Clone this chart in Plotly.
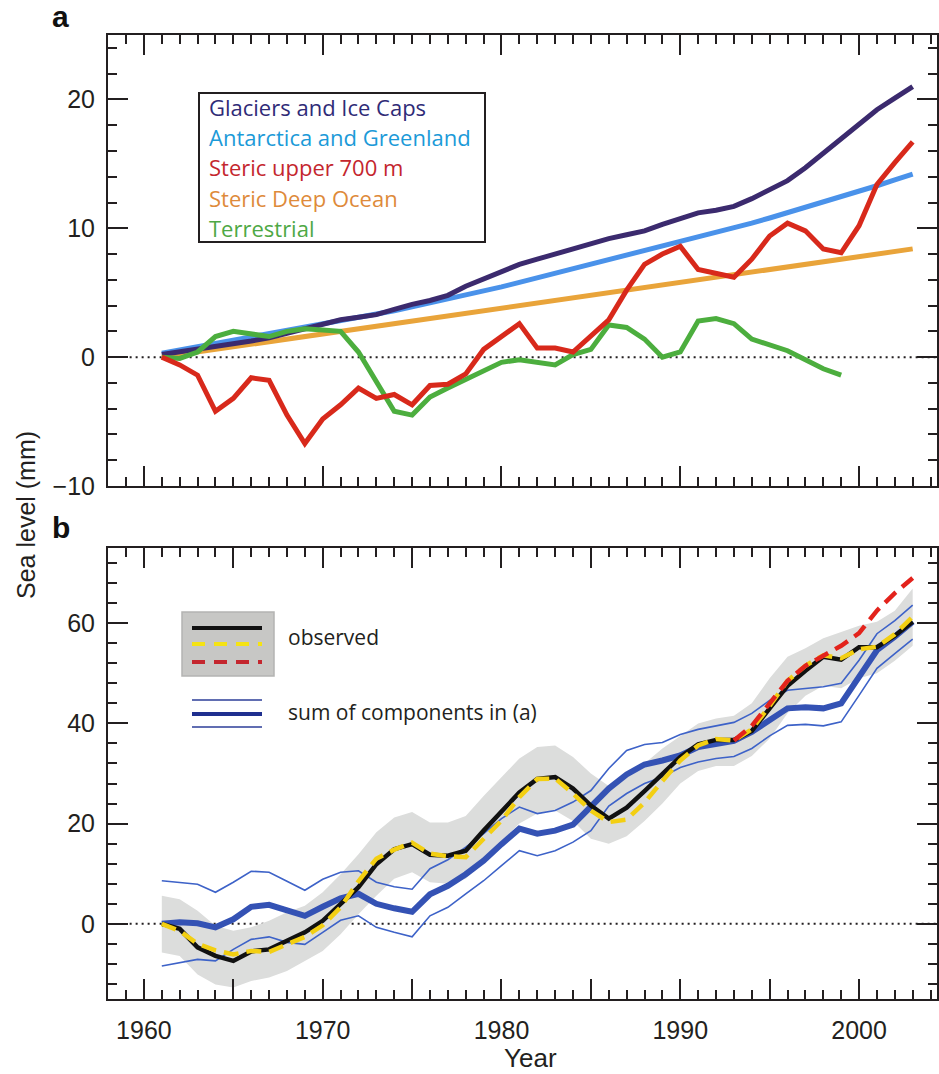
import plotly.graph_objects as go

# ---------------- data ----------------
years = list(range(1961, 2004))
years_terr = list(range(1961, 2000))

glaciers = [0.2, 0.4, 0.6, 0.8, 1.0, 1.25, 1.5, 1.85, 2.2, 2.6, 2.9, 3.1, 3.3, 3.7, 4.1, 4.4, 4.8, 5.5,
            6.1, 6.7, 7.2, 7.6, 8.0, 8.5, 8.8, 9.2, 9.5, 9.8, 10.3, 10.8, 11.2, 11.4, 11.7, 12.3, 13.0,
            13.7, 14.7, 15.8, 17.0, 18.1, 19.2, 20.1, 21.0]
antarctica = [0.3, 0.55, 0.8, 1.05, 1.3, 1.55, 1.8, 2.05, 2.3, 2.55, 2.8, 3.05, 3.3, 3.6, 3.9, 4.2, 4.5,
              4.8, 5.1, 5.45, 5.8, 6.15, 6.5, 6.85, 7.2, 7.55, 7.9, 8.25, 8.6, 8.95, 9.3, 9.65, 10.0,
              10.4, 10.8, 11.2, 11.6, 12.0, 12.4, 12.85, 13.3, 13.75, 14.2]
steric_upper = [0.0, -0.6, -1.4, -4.2, -3.2, -1.6, -1.8, -4.5, -6.7, -4.8, -3.7, -2.4, -3.2, -2.9, -3.7,
                -2.2, -2.1, -1.3, 0.6, 1.6, 2.6, 0.7, 0.7, 0.4, 1.6, 2.9, 5.2, 7.2, 8.0, 8.6, 6.8, 6.5,
                6.2, 7.6, 9.4, 10.4, 9.8, 8.4, 8.1, 10.2, 13.4, 15.1, 16.7]
steric_deep = [0.0, 0.2, 0.4, 0.6, 0.8, 1.0, 1.2, 1.4, 1.6, 1.8, 2.0, 2.2, 2.4, 2.6, 2.8, 3.0, 3.2, 3.4,
               3.6, 3.8, 4.0, 4.2, 4.4, 4.6, 4.8, 5.0, 5.2, 5.4, 5.6, 5.8, 6.0, 6.2, 6.4, 6.6, 6.8, 7.0,
               7.2, 7.4, 7.6, 7.8, 8.0, 8.2, 8.4]
terrestrial = [0.0, -0.1, 0.4, 1.6, 2.0, 1.8, 1.6, 2.0, 2.2, 2.1, 2.0, 0.4, -1.9, -4.2, -4.5, -3.1, -2.4,
               -1.7, -1.0, -0.4, -0.2, -0.4, -0.6, 0.2, 0.6, 2.5, 2.3, 1.4, 0.0, 0.4, 2.8, 3.0, 2.6,
               1.4, 0.9, 0.5, -0.2, -0.9, -1.4]

observed_black = [0.0, -1.0, -4.7, -6.4, -7.4, -5.5, -5.1, -3.4, -1.7, 0.6, 3.9, 7.3, 11.9, 14.9, 15.9,
                  13.8, 13.6, 14.6, 18.6, 22.5, 26.2, 28.9, 29.3, 27.0, 23.6, 21.0, 23.2, 26.5, 30.0,
                  33.3, 35.8, 36.7, 36.7, 38.5, 43.0, 47.5, 50.5, 53.3, 52.7, 55.2, 55.2, 57.5, 60.3]
observed_yellow = [0.0, -1.4, -4.0, -5.3, -6.1, -5.4, -5.6, -4.0, -2.6, -0.3, 3.3, 8.5, 13.0, 14.8, 16.2,
                   14.0, 13.5, 13.3, 17.0, 20.6, 25.3, 28.9, 29.0, 26.0, 22.6, 20.3, 20.8, 24.2, 28.5,
                   32.6, 35.6, 36.9, 36.6, 38.8, 43.5, 48.5, 51.5, 53.6, 53.0, 54.8, 55.3, 57.8, 61.3]
years_alt = list(range(1993, 2004))
observed_red = [36.6, 39.5, 44.0, 48.5, 51.5, 53.5, 55.5, 58.0, 62.5, 66.0, 69.0]
observed_upper = [5.6, 4.9, 2.6, -0.4, -1.4, -0.7, 0.6, 2.3, 3.6, 6.3, 9.9, 13.9, 18.3, 21.2, 22.3, 20.2,
                  20.2, 21.5, 25.5, 29.3, 33.0, 35.3, 35.6, 33.3, 30.0, 27.5, 29.5, 32.0, 35.0, 37.5,
                  40.0, 41.0, 41.5, 44.0, 49.0, 53.3, 55.0, 57.0, 58.3, 59.5, 60.3, 62.5, 66.9]
observed_lower = [-5.7, -6.4, -10.1, -12.1, -12.7, -11.4, -10.7, -9.4, -7.4, -5.4, -2.1, 1.9, 5.6, 9.0,
                  10.3, 8.3, 8.0, 9.0, 12.5, 16.5, 20.0, 22.0, 22.6, 20.5, 17.0, 16.0, 17.5, 20.5, 24.0,
                  28.0, 30.5, 31.5, 31.5, 33.5, 37.0, 42.0, 45.5, 47.5, 47.0, 49.0, 50.0, 52.5, 55.5]
sum_mid = [0.0, 0.3, 0.1, -0.7, 0.9, 3.4, 3.8, 2.6, 1.6, 3.4, 5.1, 6.0, 4.0, 3.1, 2.4, 5.9, 7.6, 9.9,
           12.6, 15.9, 19.0, 18.0, 18.6, 19.8, 23.5, 27.0, 29.8, 31.8, 32.6, 33.6, 35.3, 36.0, 36.5,
           38.3, 40.6, 43.0, 43.2, 43.0, 44.0, 49.3, 54.6, 57.3, 60.3]
sum_upper = [8.6, 8.3, 7.9, 6.3, 8.3, 10.5, 10.3, 8.5, 6.7, 8.9, 10.3, 10.6, 8.3, 7.4, 6.9, 11.0, 12.8,
             15.3, 18.0, 21.0, 23.3, 22.0, 22.6, 24.3, 26.6, 31.0, 34.6, 35.8, 36.2, 37.8, 38.8, 39.5,
             40.2, 42.0, 44.6, 46.6, 47.0, 47.3, 48.0, 52.6, 57.9, 60.5, 63.6]
sum_lower = [-8.4, -7.7, -7.1, -7.4, -5.1, -3.1, -2.6, -3.7, -4.1, -1.7, 0.7, 1.6, -0.7, -1.7, -2.6, 1.6,
             3.3, 6.0, 8.6, 11.6, 14.6, 13.6, 14.6, 16.3, 18.6, 23.5, 26.0, 28.0, 29.3, 31.2, 32.3,
             33.0, 33.4, 35.0, 37.5, 39.6, 39.8, 39.5, 40.3, 45.6, 51.0, 53.9, 56.8]

x_tick_vals = [1960, 1965, 1970, 1975, 1980, 1985, 1990, 1995, 2000]
x_tick_text = ["1960", "", "1970", "", "1980", "", "1990", "", "2000"]
ya_tick_vals = [-10, 0, 10, 20]
ya_tick_text = ["\u221210", "0", "10", "20"]
yb_tick_vals = [0, 20, 40, 60]
yb_tick_text = ["0", "20", "40", "60"]

legend_a = [("Glaciers and Ice Caps", "#2f2b77"),
            ("Antarctica and Greenland", "#1b9ad8"),
            ("Steric upper 700 m", "#c4262e"),
            ("Steric Deep Ocean", "#de8a3a"),
            ("Terrestrial", "#4ea845")]

# ---------------- layout helpers (pixel -> paper) ----------------
W, H = 939, 1074
def px(x):
    return x / W
def py(y):
    return 1 - y / H

C_GLAC = "#3b2a6e"
C_ANT = "#4a92ea"
C_RED = "#d8291b"
C_ORG = "#e9a43a"
C_GRN = "#4cae3e"
C_BLUE_THICK = "#3452b4"
C_BLUE_THIN = "#3d62c8"

fig = go.Figure()

# ---- panel a ----
lw = 5
fig.add_trace(go.Scatter(x=years, y=steric_deep, mode="lines", line=dict(color=C_ORG, width=lw),
                         xaxis="x", yaxis="y", showlegend=False))
fig.add_trace(go.Scatter(x=years, y=antarctica, mode="lines", line=dict(color=C_ANT, width=lw),
                         xaxis="x", yaxis="y", showlegend=False))
fig.add_trace(go.Scatter(x=years, y=glaciers, mode="lines", line=dict(color=C_GLAC, width=lw),
                         xaxis="x", yaxis="y", showlegend=False))
fig.add_trace(go.Scatter(x=years_terr, y=terrestrial, mode="lines", line=dict(color=C_GRN, width=lw),
                         xaxis="x", yaxis="y", showlegend=False))
fig.add_trace(go.Scatter(x=years, y=steric_upper, mode="lines", line=dict(color=C_RED, width=lw),
                         xaxis="x", yaxis="y", showlegend=False))

# ---- panel b ----
fig.add_trace(go.Scatter(x=years, y=observed_upper, mode="lines", line=dict(width=0, color="#dcdddc"),
                         xaxis="x2", yaxis="y2", showlegend=False))
fig.add_trace(go.Scatter(x=years, y=observed_lower, mode="lines", line=dict(width=0, color="#dcdddc"),
                         fill="tonexty", fillcolor="#dcdddc", xaxis="x2", yaxis="y2", showlegend=False))
fig.add_trace(go.Scatter(x=years, y=sum_upper, mode="lines", line=dict(color=C_BLUE_THIN, width=1.6),
                         xaxis="x2", yaxis="y2", showlegend=False))
fig.add_trace(go.Scatter(x=years, y=sum_lower, mode="lines", line=dict(color=C_BLUE_THIN, width=1.6),
                         xaxis="x2", yaxis="y2", showlegend=False))
fig.add_trace(go.Scatter(x=years, y=sum_mid, mode="lines", line=dict(color=C_BLUE_THICK, width=6),
                         xaxis="x2", yaxis="y2", showlegend=False))
fig.add_trace(go.Scatter(x=years, y=observed_black, mode="lines", line=dict(color="#111111", width=4.5),
                         xaxis="x2", yaxis="y2", showlegend=False))
fig.add_trace(go.Scatter(x=years, y=observed_yellow, mode="lines",
                         line=dict(color="#f3cf12", width=4.5, dash="15px,8px"),
                         xaxis="x2", yaxis="y2", showlegend=False))
fig.add_trace(go.Scatter(x=years_alt, y=observed_red, mode="lines",
                         line=dict(color="#e3231c", width=4.5, dash="15px,8px"),
                         xaxis="x2", yaxis="y2", showlegend=False))

tick_font = dict(family="Liberation Sans, Arial, sans-serif", size=25, color="#231f20")
xdom = [px(108), px(937)]

def xaxis_common(show_labels):
    return dict(domain=xdom, range=[1957.99, 2004.36], tickmode="array", tickvals=x_tick_vals,
                ticktext=x_tick_text, showticklabels=show_labels, ticks="inside", ticklen=20,
                tickwidth=2, tickcolor="#231f20", showline=True, linecolor="#231f20", linewidth=2,
                mirror="ticks", showgrid=False, zeroline=False, tickfont=tick_font, automargin=False,
                minor=dict(ticks="inside", ticklen=9, tickwidth=2, dtick=1, tick0=1960,
                           tickcolor="#231f20", showgrid=False))

fig.update_layout(
    width=W, height=H, autosize=False, margin=dict(l=0, r=0, t=0, b=0, pad=0, autoexpand=False),
    paper_bgcolor="white", plot_bgcolor="white", showlegend=False,
    xaxis=dict(**xaxis_common(False), anchor="y"),
    yaxis=dict(domain=[py(486), py(35)], range=[-10, 25], tickmode="array", tickvals=ya_tick_vals,
               ticktext=ya_tick_text, ticks="inside", ticklen=20, tickwidth=2, tickcolor="#231f20",
               showline=True, linecolor="#231f20", linewidth=2, mirror="ticks", showgrid=False,
               zeroline=False, tickfont=tick_font, anchor="x", ticklabelstandoff=6, automargin=False,
               minor=dict(ticks="inside", ticklen=9, tickwidth=2, dtick=2, tick0=0,
                          tickcolor="#231f20", showgrid=False)),
    xaxis2=dict(**xaxis_common(True), anchor="y2", ticklabelstandoff=8),
    yaxis2=dict(domain=[py(999), py(548)], range=[-15, 75], tickmode="array", tickvals=yb_tick_vals,
                ticktext=yb_tick_text, ticks="inside", ticklen=20, tickwidth=2, tickcolor="#231f20",
                showline=True, linecolor="#231f20", linewidth=2, mirror="ticks", showgrid=False,
                zeroline=False, tickfont=tick_font, anchor="x2", ticklabelstandoff=6, automargin=False,
                minor=dict(ticks="inside", ticklen=9, tickwidth=2, dtick=4, tick0=0,
                           tickcolor="#231f20", showgrid=False)),
)

shapes = []
# zero dotted lines
for xr, yr in (("x", "y"), ("x2", "y2")):
    shapes.append(dict(type="line", xref=xr, yref=yr, x0=1959.2, x1=2004.3, y0=0, y1=0, layer="below",
                       line=dict(color="#231f20", width=2, dash="2px,4px")))
# legend box a
shapes.append(dict(type="rect", xref="paper", yref="paper", x0=px(199), x1=px(485), y0=py(242), y1=py(93),
                   line=dict(color="#231f20", width=2), fillcolor="rgba(0,0,0,0)"))
# legend box b
shapes.append(dict(type="rect", xref="paper", yref="paper", x0=px(182), x1=px(274), y0=py(676), y1=py(612),
                   line=dict(color="#b4b4b2", width=1.5), fillcolor="#c7c7c5"))
shapes.append(dict(type="line", xref="paper", yref="paper", x0=px(192), x1=px(262), y0=py(628), y1=py(628),
                   line=dict(color="#111111", width=4)))
shapes.append(dict(type="line", xref="paper", yref="paper", x0=px(192), x1=px(262), y0=py(644), y1=py(644),
                   line=dict(color="#f5e314", width=4, dash="13px,9px")))
shapes.append(dict(type="line", xref="paper", yref="paper", x0=px(192), x1=px(262), y0=py(662), y1=py(662),
                   line=dict(color="#c4262e", width=4, dash="13px,9px")))
shapes.append(dict(type="line", xref="paper", yref="paper", x0=px(192), x1=px(262), y0=py(700), y1=py(700),
                   line=dict(color="#2c3e98", width=1.5)))
shapes.append(dict(type="line", xref="paper", yref="paper", x0=px(192), x1=px(262), y0=py(714), y1=py(714),
                   line=dict(color="#1f2f8f", width=4)))
shapes.append(dict(type="line", xref="paper", yref="paper", x0=px(192), x1=px(262), y0=py(727), y1=py(727),
                   line=dict(color="#2c3e98", width=1.5)))
fig.update_layout(shapes=shapes)

ann = []
leg_font = "Open Sans, Noto Sans, sans-serif"
ys = [107, 137, 167, 198, 228]
for (txt, col), yy in zip(legend_a, ys):
    ann.append(dict(text=txt, xref="paper", yref="paper", x=px(207), y=py(yy), xanchor="left",
                    yanchor="middle", showarrow=False, font=dict(family=leg_font, size=22, color=col)))
ann.append(dict(text="observed", xref="paper", yref="paper", x=px(286), y=py(637), xanchor="left",
                yanchor="middle", showarrow=False, font=dict(family=leg_font, size=21, color="#231f20")))
ann.append(dict(text="sum of components in (a)", xref="paper", yref="paper", x=px(286), y=py(712),
                xanchor="left", yanchor="middle", showarrow=False,
                font=dict(family=leg_font, size=21, color="#231f20")))
ann.append(dict(text="<b>a</b>", xref="paper", yref="paper", x=px(50), y=py(17), xanchor="left",
                yanchor="middle", showarrow=False,
                font=dict(family="Liberation Sans, Arial, sans-serif", size=30, color="#111111")))
ann.append(dict(text="<b>b</b>", xref="paper", yref="paper", x=px(50), y=py(527), xanchor="left",
                yanchor="middle", showarrow=False,
                font=dict(family="Liberation Sans, Arial, sans-serif", size=30, color="#111111")))
ann.append(dict(text="Sea level (mm)", xref="paper", yref="paper", x=px(26), y=py(515), xanchor="center",
                yanchor="middle", textangle=-90, showarrow=False,
                font=dict(family="Liberation Sans, Arial, sans-serif", size=25, color="#231f20")))
ann.append(dict(text="Year", xref="paper", yref="paper", x=px(530), y=py(1058), xanchor="center",
                yanchor="middle", showarrow=False,
                font=dict(family="Liberation Sans, Arial, sans-serif", size=26, color="#231f20")))
fig.update_layout(annotations=ann)

fig.write_html("out.html", config={"responsive": False, "displayModeBar": False},
               post_script="document.body.style.margin='0px';document.body.style.overflow='hidden';")
